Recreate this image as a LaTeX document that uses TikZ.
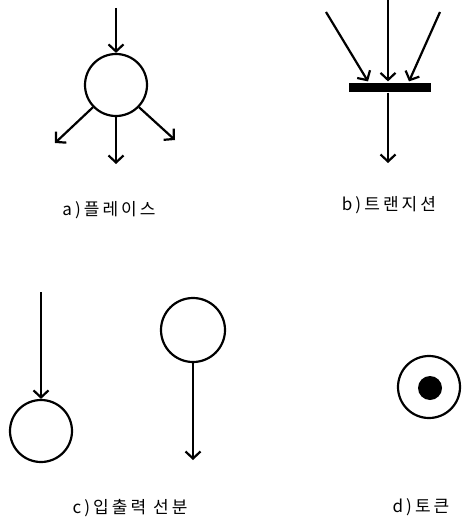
\documentclass[tikz,border=0pt]{standalone}
\usepackage{fontspec}
\newfontfamily\kfont[LetterSpace=18]{Noto Sans CJK KR}
\usetikzlibrary{arrows.meta}
\begin{document}
\begin{tikzpicture}[x=1pt,y=-1pt,
  line width=2.2pt,
  place/.style={draw,circle,minimum size=62pt,inner sep=0pt},
  arr/.style={-{Straight Barb[length=7pt,width=15pt,line width=2.2pt]}},
  lbl/.style={font=\kfont\fontsize{17pt}{20pt}\selectfont,inner sep=0pt}]
\useasboundingbox (0,0) rectangle (462,527);
% a) place
\node[place] (p1) at (116,85) {};
\coordinate (a0) at (116,8);
\coordinate (a1) at (55,143);
\coordinate (a2) at (116,164);
\coordinate (a3) at (175,140);
\draw[arr] (a0) -- (p1.north);
\draw[arr] (p1.224) -- (a1);
\draw[arr] (p1.south) -- (a2);
\draw[arr] (p1.316) -- (a3);
\node[lbl] (la) at (109,210) {a)플레이스};
% b) transition
\node[fill=black,minimum width=82pt,minimum height=9pt,inner sep=0pt] (bar) at (390,87) {};
\coordinate (b0) at (388,0);
\coordinate (b1) at (326,12);
\coordinate (b2) at (440,12);
\coordinate (b3) at (388,163);
\draw[arr] (b0) -- ([xshift=-2pt]bar.north);
\draw[arr] (b1) -- ([xshift=-22pt]bar.north);
\draw[arr] (b2) -- ([xshift=19pt]bar.north);
\draw[arr] ([xshift=-2pt]bar.south) -- (b3);
\node[lbl] (lb) at (389,205) {b)트랜지션};
% c) input/output arcs
\node[place] (c1) at (41,431) {};
\coordinate (c0) at (41,292);
\draw[arr] (c0) -- (c1.north);
\node[place,minimum size=64pt] (c2) at (193,330) {};
\coordinate (c3) at (193,460);
\draw[arr] (c2.south) -- (c3);
\node[lbl] (lc) at (130,508) {c)입출력 선분};
% d) token
\node[place] (d1) at (429,387) {};
\node[circle,fill=black,minimum size=24pt,inner sep=0pt] (tok) at (430,388) {};
\node[lbl] (ld) at (421,507) {d)토큰};
\end{tikzpicture}
\end{document}
